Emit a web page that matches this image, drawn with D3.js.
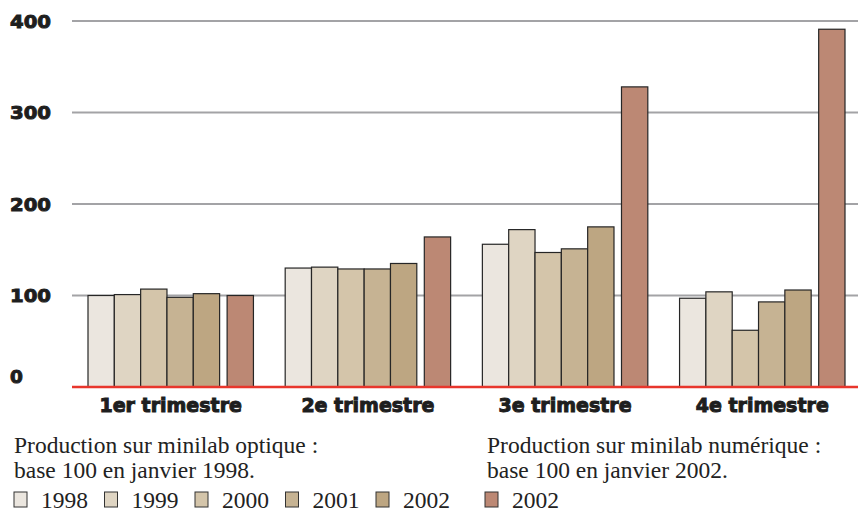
<!DOCTYPE html>
<html>
<head>
<meta charset="utf-8">
<script src="https://cdn.jsdelivr.net/npm/d3@7"></script>
<style>
  body { margin: 0; background: #fff; }
  .ylab, .xlab { font-family: "DejaVu Sans", sans-serif; font-weight: bold; fill: #1e1e1e; stroke: #1e1e1e; stroke-width: 1px; }
  .note, .leg { font-family: "Liberation Serif", "Times New Roman", serif; fill: #222; }
</style>
</head>
<body>
<div id="chart"></div>
<script>
// Data
const quarters = ["1er trimestre", "2e trimestre", "3e trimestre", "4e trimestre"];
const optKeys = ["1998", "1999", "2000", "2001", "2002"];
const numKey = "2002 num";
const v1998 = [100, 130, 156, 97];
const v1999 = [101, 131, 172, 104];
const v2000 = [107, 129, 147, 62];
const v2001 = [98, 129, 151, 93];
const v2002 = [102, 135, 175, 106];
const vNum2002 = [100, 164, 328, 391];
const yTicks = [0, 100, 200, 300, 400];
const noteOpt = ["Production sur minilab optique :", "base 100 en janvier 1998."];
const noteNum = ["Production sur minilab numérique :", "base 100 en janvier 2002."];

const colors = {
  "1998": "#ebe6df",
  "1999": "#dfd5c3",
  "2000": "#d4c5aa",
  "2001": "#c6b393",
  "2002": "#bda682",
  "2002 num": "#bc8874"
};

const seriesVals = { "1998": v1998, "1999": v1999, "2000": v2000, "2001": v2001, "2002": v2002, "2002 num": vNum2002 };
const allKeys = optKeys.concat([numKey]);

const width = 858, height = 513;
const svg = d3.select("#chart").append("svg")
  .attr("width", width)
  .attr("height", height);

// scales
const yScale = d3.scaleLinear().domain([0, 400]).range([387, 21]);
const xScale = d3.scaleBand()
  .domain(quarters)
  .range([88, 845])
  .paddingInner(0.161)
  .paddingOuter(0);
const gap = 7.5;
const subX = d3.scaleBand()
  .domain(allKeys)
  .range([0, xScale.bandwidth() - gap]);

// gridlines
svg.append("g")
  .selectAll("line")
  .data(yTicks.filter(d => d > 0))
  .enter()
  .append("line")
  .attr("x1", 72).attr("x2", width)
  .attr("y1", d => yScale(d)).attr("y2", d => yScale(d))
  .attr("stroke", "#a3a3a6")
  .attr("stroke-width", 2);

// y labels
svg.append("g")
  .selectAll("text")
  .data(yTicks)
  .enter()
  .append("text")
  .attr("class", "ylab")
  .attr("x", 10)
  .attr("y", d => d === 0 ? 383 : yScale(d) + 6.5)
  .style("font-size", "18.5px")
  .each(function(d) {
    if (d > 0) d3.select(this).attr("textLength", 41).attr("lengthAdjust", "spacingAndGlyphs");
  })
  .text(d => d);

// bars
const rows = [];
quarters.forEach((q, i) => {
  allKeys.forEach(k => rows.push({ q: q, key: k, value: seriesVals[k][i] }));
});

svg.append("g")
  .selectAll("rect")
  .data(rows)
  .enter()
  .append("rect")
  .attr("x", d => xScale(d.q) + subX(d.key) + (d.key === numKey ? gap : 0))
  .attr("y", d => yScale(d.value))
  .attr("width", subX.bandwidth())
  .attr("height", d => yScale(0) - yScale(d.value))
  .attr("fill", d => colors[d.key])
  .attr("stroke", "#262626")
  .attr("stroke-width", 1.2);

// red baseline
svg.append("line")
  .attr("x1", 72).attr("x2", width)
  .attr("y1", yScale(0)).attr("y2", yScale(0))
  .attr("stroke", "#e8362c")
  .attr("stroke-width", 2.4);

// category labels
svg.append("g")
  .selectAll("text")
  .data(quarters)
  .enter()
  .append("text")
  .attr("class", "xlab")
  .attr("x", d => xScale(d) + xScale.bandwidth() / 2)
  .attr("y", 412)
  .attr("text-anchor", "middle")
  .style("font-size", "19px")
  .text(d => d);

// notes (one text, two lines)
function drawNote(lines, x) {
  svg.append("text")
    .attr("class", "note")
    .attr("y", 453)
    .style("font-size", "23.5px")
    .selectAll("tspan")
    .data(lines)
    .enter()
    .append("tspan")
    .attr("x", x)
    .attr("dy", (d, i) => i === 0 ? 0 : 24.5)
    .text(d => d);
}
drawNote(noteOpt, 14);
drawNote(noteNum, 487);

// legend
const legX = k => k === numKey ? 485 : 14 + optKeys.indexOf(k) * 90.5;
const leg = svg.append("g")
  .selectAll("g")
  .data(allKeys)
  .enter()
  .append("g")
  .attr("transform", d => `translate(${legX(d)},492)`);

leg.append("rect")
  .attr("width", 13)
  .attr("height", 15)
  .attr("fill", d => colors[d])
  .attr("stroke", "#333")
  .attr("stroke-width", 1);

leg.append("text")
  .attr("class", "leg")
  .attr("x", 27)
  .attr("y", 15.5)
  .style("font-size", "23.5px")
  .text(d => d === numKey ? "2002" : d);
</script>
</body>
</html>
